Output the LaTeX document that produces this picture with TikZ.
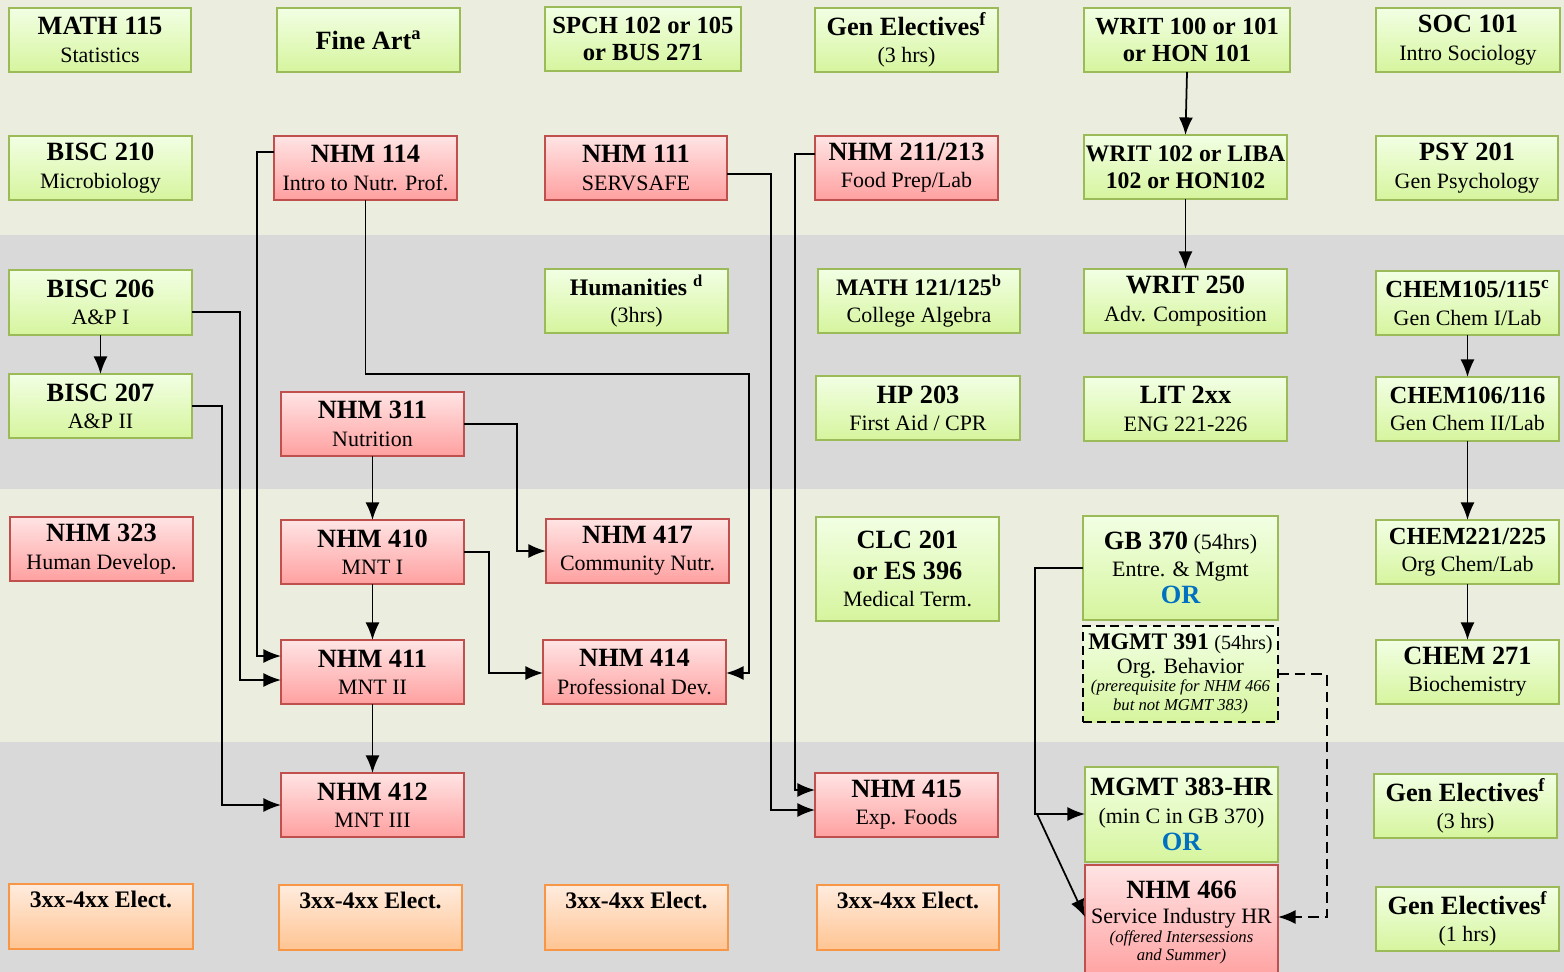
\documentclass[tikz,border=0pt]{standalone}
\usepackage{fontspec}
\setmainfont{Liberation Serif}
\usetikzlibrary{arrows.meta}
\definecolor{bgA}{RGB}{235,238,222}
\definecolor{bgB}{RGB}{217,217,217}
\definecolor{gBord}{RGB}{155,187,89}
\definecolor{gTop}{RGB}{242,255,228}
\definecolor{gBot}{RGB}{214,245,158}
\definecolor{rBord}{RGB}{192,80,77}
\definecolor{rTop}{RGB}{255,228,228}
\definecolor{rBot}{RGB}{255,160,160}
\definecolor{oBord}{RGB}{247,150,70}
\definecolor{oTop}{RGB}{255,236,222}
\definecolor{oBot}{RGB}{255,196,146}
\definecolor{orBlue}{RGB}{0,112,192}
\newcommand{\ttl}{\fontsize{15}{16}\selectfont\bfseries}
\newcommand{\ttm}{\fontsize{13.5}{16}\selectfont\bfseries}
\newcommand{\ttn}{\fontsize{14}{16}\selectfont\bfseries}
\newcommand{\itl}{\fontsize{9.5}{11}\selectfont\itshape}
\newcommand{\crsbox}[7]{\node[#2, minimum width={(#5-#3)*0.02cm}, minimum height={(#6-#4)*0.02cm}] (#1) at ({(#3+#5)/2},{(#4+#6)/2}) {#7};}
\tikzset{
  base/.style={inner sep=0pt, outer sep=0pt, align=center, font=\fontsize{12.5}{15.5}\selectfont, line width=1.1pt},
  gbox/.style={base, draw=gBord, top color=gTop, bottom color=gBot},
  rbox/.style={base, draw=rBord, top color=rTop, bottom color=rBot},
  obox/.style={base, draw=oBord, top color=oTop, bottom color=oBot},
  dbox/.style={base, draw=black, line width=1.6pt, dash pattern=on 5pt off 3pt, top color=gTop, bottom color=gBot},
  arr/.style={-{Latex[length=10pt,width=8pt]}, line width=1pt, black},
  darr/.style={arr, dash pattern=on 6pt off 3.5pt}
}
\begin{document}
\begin{tikzpicture}[x=0.02cm, y=-0.02cm]
\useasboundingbox (0,0) rectangle (1564,972);
% background bands
\fill[bgA] (0,0) rectangle (1564,235);
\fill[bgB] (0,235) rectangle (1564,489);
\fill[bgA] (0,489) rectangle (1564,742);
\fill[bgB] (0,742) rectangle (1564,972);
% row 1
\crsbox{math115}{gbox}{9}{8}{191}{72}{{\ttl MATH 115}\\Statistics}
\crsbox{fineart}{gbox}{277}{8}{460}{72}{{\ttl Fine Art\textsuperscript{a}}}
\crsbox{spch}{gbox}{545}{7}{741}{71}{{\ttn SPCH 102 or 105}\\{\ttn or BUS 271}}
\crsbox{genA}{gbox}{815}{8}{998}{72}{{\ttl Gen Electives\textsuperscript{f}}\\(3 hrs)}
\crsbox{writA}{gbox}{1084}{8}{1290}{72}{{\ttn WRIT 100 or 101}\\{\ttn or HON 101}}
\crsbox{soc}{gbox}{1376}{8}{1560}{72}{{\ttl SOC 101}\\Intro Sociology}
% row 2
\crsbox{bisc210}{gbox}{9}{136}{192}{200}{{\ttl BISC 210}\\Microbiology}
\crsbox{nhm114}{rbox}{274}{136}{457}{200}{{\ttl NHM 114}\\Intro to Nutr. Prof.}
\crsbox{nhm111}{rbox}{545}{136}{727}{200}{{\ttl NHM 111}\\SERVSAFE}
\crsbox{nhm211}{rbox}{815}{136}{998}{200}{{\ttl NHM 211/213}\\Food Prep/Lab}
\crsbox{writB}{gbox}{1084}{135}{1287}{199}{{\ttm WRIT 102 or LIBA}\\{\ttm 102 or HON102}}
\crsbox{psy}{gbox}{1376}{136}{1558}{200}{{\ttl PSY 201}\\Gen Psychology}
% row 3
\crsbox{bisc206}{gbox}{9}{270}{192}{335}{{\ttl BISC 206}\\A\&P I}
\crsbox{hum}{gbox}{545}{269}{728}{333}{{\ttm Humanities \textsuperscript{d}}\\(3hrs)}
\crsbox{math121}{gbox}{818}{269}{1020}{333}{{\ttm MATH 121/125\textsuperscript{b}}\\College Algebra}
\crsbox{writC}{gbox}{1084}{269}{1287}{333}{{\ttl WRIT 250}\\Adv. Composition}
\crsbox{chemA}{gbox}{1376}{271}{1559}{335}{{\ttn CHEM105/115\textsuperscript{c}}\\Gen Chem I/Lab}
% row 4
\crsbox{bisc207}{gbox}{9}{374}{192}{438}{{\ttl BISC 207}\\A\&P II}
\crsbox{nhm311}{rbox}{281}{392}{464}{456}{{\ttl NHM 311}\\Nutrition}
\crsbox{hp}{gbox}{816}{376}{1020}{440}{{\ttl HP 203}\\First Aid / CPR}
\crsbox{lit}{gbox}{1084}{377}{1287}{441}{{\ttl LIT 2xx}\\ENG 221-226}
\crsbox{chemB}{gbox}{1376}{377}{1559}{441}{{\ttn CHEM106/116}\\Gen Chem II/Lab}
% row 5
\crsbox{nhm323}{rbox}{10}{517}{193}{581}{{\ttl NHM 323}\\Human Develop.}
\crsbox{nhm410}{rbox}{281}{520}{464}{584}{{\ttl NHM 410}\\MNT I}
\crsbox{nhm417}{rbox}{546}{519}{729}{583}{{\ttl NHM 417}\\Community Nutr.}
\crsbox{clc}{gbox}{816}{517}{999}{621}{{\ttl CLC 201}\\[2pt]{\ttl or ES 396}\\Medical Term.}
\crsbox{gb}{gbox}{1083}{516}{1278}{620}{{\ttl GB 370} (54hrs)\\Entre. \& Mgmt\\{\ttl\color{orBlue}OR}}
\crsbox{chemC}{gbox}{1376}{520}{1559}{584}{{\ttn CHEM221/225}\\Org Chem/Lab}
% row 6
\crsbox{nhm411}{rbox}{281}{640}{464}{704}{{\ttl NHM 411}\\MNT II}
\crsbox{nhm414}{rbox}{543}{640}{726}{704}{{\ttl NHM 414}\\Professional Dev.}
\crsbox{mgmt391}{dbox}{1083}{626}{1278}{722}{{\ttm MGMT 391} {\fontsize{11.5}{14}\selectfont(54hrs)}\\[-2pt]Org. Behavior\\[-5pt]{\itl (prerequisite for NHM 466}\\[-5pt]{\itl but not MGMT 383)}}
\crsbox{chemD}{gbox}{1376}{640}{1559}{704}{{\ttl CHEM 271}\\Biochemistry}
% row 7
\crsbox{nhm412}{rbox}{281}{773}{464}{837}{{\ttl NHM 412}\\MNT III}
\crsbox{nhm415}{rbox}{815}{773}{998}{837}{{\ttl NHM 415}\\Exp. Foods}
\crsbox{mgmt383}{gbox}{1085}{767}{1278}{862}{{\ttl MGMT 383-HR}\\(min C in GB 370)\\{\ttl\color{orBlue}OR}}
\crsbox{genB}{gbox}{1374}{774}{1557}{838}{{\ttl Gen Electives\textsuperscript{f}}\\(3 hrs)}
% row 8
\crsbox{elA}{obox}{9}{884}{193}{949}{{\ttm 3xx-4xx Elect.}\\\strut}
\crsbox{elB}{obox}{279}{885}{462}{950}{{\ttm 3xx-4xx Elect.}\\\strut}
\crsbox{elC}{obox}{545}{885}{728}{950}{{\ttm 3xx-4xx Elect.}\\\strut}
\crsbox{elD}{obox}{817}{885}{999}{950}{{\ttm 3xx-4xx Elect.}\\\strut}
\crsbox{nhm466}{rbox}{1085}{865}{1278}{980}{{\ttl NHM 466}\\[-1pt]Service Industry HR\\[-5pt]{\itl (offered Intersessions}\\[-5pt]{\itl and Summer)}}
\crsbox{genC}{gbox}{1376}{887}{1559}{951}{{\ttl Gen Electives\textsuperscript{f}}\\(1 hrs)}
% connectors
\draw[arr] (writA.south) -- (writB.north);
\draw[arr] (writB.south) -- (writC.north);
\draw[arr] (bisc206.south) -- (bisc207.north);
\draw[arr] (chemA.south) -- (chemB.north);
\draw[arr] (chemB.south) -- (chemC.north);
\draw[arr] (chemC.south) -- (chemD.north);
\draw[arr] (nhm114.west |- 0,152) -- (257,152) |- (nhm411.west |- 0,656);
\draw[arr] (nhm114.south) |- (749,374) |- (nhm414.east |- 0,673);
\draw[arr] (nhm111.east |- 0,174) -- (771,174) |- (nhm415.west |- 0,810);
\draw[arr] (nhm211.west |- 0,154) -- (795,154) |- (nhm415.west |- 0,790);
\draw[arr] (bisc206.east |- 0,312) -- (240,312) |- (nhm411.west |- 0,680);
\draw[arr] (bisc207.east |- 0,406) -- (222,406) |- (nhm412.west |- 0,805);
\draw[arr] (nhm311.south) -- (nhm410.north);
\draw[arr] (nhm311.east |- 0,424) -- (517,424) |- (nhm417.west |- 0,551);
\draw[arr] (nhm410.south) -- (nhm411.north);
\draw[arr] (nhm410.east |- 0,552) -- (489,552) |- (nhm414.west |- 0,673);
\draw[arr] (nhm411.south) -- (nhm412.north);
\draw[arr] (gb.west |- 0,568) -- (1035,568) |- (mgmt383.west |- 0,814);
\coordinate (split) at (1037,814);
\draw[arr] (split) -- (nhm466.west |- 0,917);
\draw[darr] (mgmt391.east |- 0,674) -- (1327,674) |- (nhm466.east |- 0,917);
\end{tikzpicture}
\end{document}
